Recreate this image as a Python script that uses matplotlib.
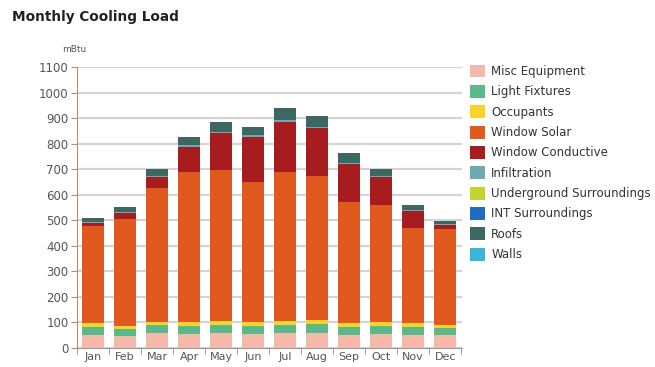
import matplotlib
matplotlib.use("Agg")
from matplotlib import pyplot as plt
from matplotlib.patches import Patch
import numpy as np

plt.rcParams['font.family'] = ['DejaVu Sans']

months = ["Jan", "Feb", "Mar", "Apr", "May", "Jun",
          "Jul", "Aug", "Sep", "Oct", "Nov", "Dec"]

# load components, mBtu (bottom to top of each bar)
misc_equipment = [50, 45, 57, 55, 57, 55, 57, 58, 52, 55, 52, 50]
light_fixtures = [32, 28, 32, 32, 33, 32, 33, 36, 32, 32, 32, 28]
occupants = [15, 12, 14, 14, 14, 14, 14, 15, 14, 14, 14, 13]
window_solar = [380, 419, 522, 589, 593, 550, 586, 564, 475, 459, 370, 374]
window_conductive = [13, 26, 45, 98, 143, 176, 196, 187, 147, 108, 69, 16]
infiltration = [3, 4, 5, 6, 7, 6, 7, 7, 6, 5, 4, 3]
underground = [0] * 12
int_surroundings = [0] * 12
roofs = [14, 19, 24, 31, 39, 33, 45, 42, 36, 27, 19, 14]
walls = [0] * 12

series = [
    ("Misc Equipment", misc_equipment, "#f4b9aa"),
    ("Light Fixtures", light_fixtures, "#5cb98b"),
    ("Occupants", occupants, "#f6d42a"),
    ("Window Solar", window_solar, "#e0591f"),
    ("Window Conductive", window_conductive, "#a71d1f"),
    ("Infiltration", infiltration, "#6eaab2"),
    ("Underground Surroundings", underground, "#c3d52c"),
    ("INT Surroundings", int_surroundings, "#1f6cc0"),
    ("Roofs", roofs, "#3c6762"),
    ("Walls", walls, "#3ab4d8"),
]

fig = plt.figure(figsize=(6.55, 3.67), dpi=100)
ax = fig.add_axes([0.1176, 0.0518, 0.5875, 0.7656])

x = np.arange(len(months))
bottom = np.zeros(len(months))
for name, vals, col in series:
    ax.bar(x, vals, 0.67, bottom=bottom, color=col, zorder=3)
    bottom += np.array(vals)

ax.set_ylim(0, 1100)
ax.set_xlim(-0.48, 11.52)
ax.set_yticks(range(0, 1101, 100))
ax.yaxis.grid(True, color="#d4d4d4", linewidth=1.6, zorder=0)

ax.set_xticks(x)
ax.set_xticklabels(months)
ax.set_xticks(np.arange(-0.5, 12, 1), minor=True)
ax.tick_params(axis="x", which="major", length=0, labelsize=8, colors="#555555", pad=3)
ax.tick_params(axis="x", which="minor", length=4, color="#888888", direction="out")
ax.tick_params(axis="y", length=4, labelsize=8.5, colors="#555555", color="#b09070", pad=2)

for s in ["top", "right"]:
    ax.spines[s].set_visible(False)
ax.spines["left"].set_color("#b09070")
ax.spines["bottom"].set_color("#999999")

fig.text(0.018, 0.955, "Monthly Cooling Load", fontsize=9.8, fontweight="bold",
         color="#222222", va="center")
fig.text(0.095, 0.865, "mBtu", fontsize=6.5, color="#555555", va="center")

handles = [Patch(facecolor=c, edgecolor="none") for _, _, c in series]
labels = [n for n, _, _ in series]
fig.legend(handles, labels, loc="upper left", bbox_to_anchor=(0.7176, 0.824),
           frameon=False, fontsize=8.5, handlelength=1.3, handleheight=1.3,
           handletextpad=0.5, labelspacing=0.59, labelcolor="#333333",
           borderaxespad=0, borderpad=0)

plt.savefig("out.png", dpi=100)
